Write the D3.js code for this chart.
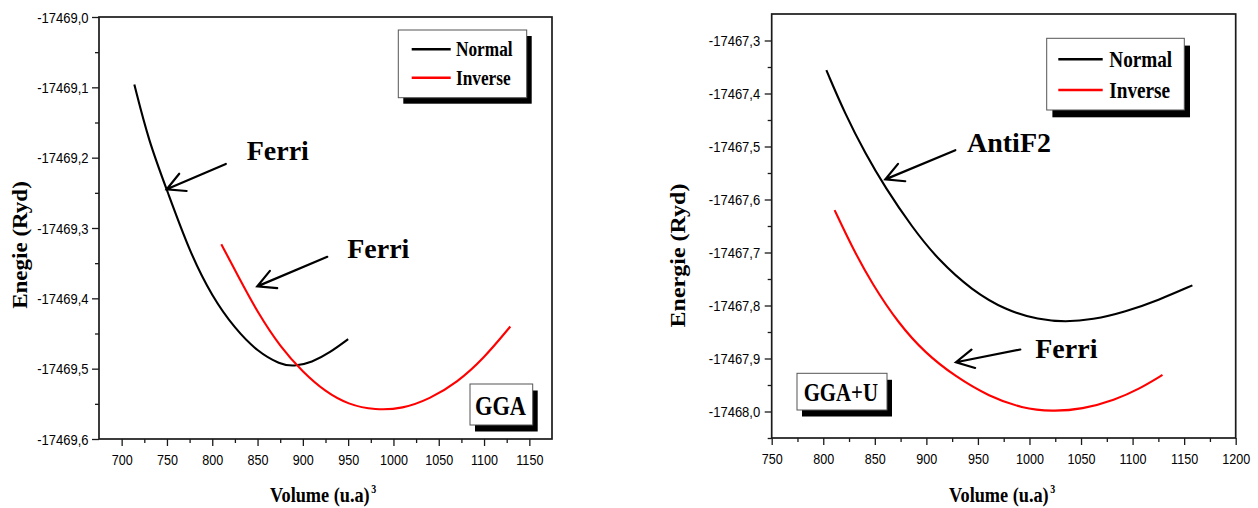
<!DOCTYPE html>
<html>
<head>
<meta charset="utf-8">
<script src="https://cdn.jsdelivr.net/npm/d3@7"></script>
<style>
  html, body { margin: 0; padding: 0; background: #fff; }
  svg { display: block; }
</style>
</head>
<body>
<svg id="chart" width="1258" height="508"></svg>
<script>
// ---- GGA panel: total energy vs. volume ----
const ggaNormalVolume  = [714, 730, 750, 775, 800, 825, 850, 875, 890, 910, 930, 950];
const ggaNormalEnergy  = [-17469.096, -17469.177, -17469.246, -17469.334, -17469.398, -17469.443,
                          -17469.476, -17469.494, -17469.497, -17469.491, -17469.477, -17469.458];
const ggaInverseVolume = [810, 830, 850, 875, 900, 925, 950, 980, 1010, 1040, 1070, 1100, 1129];
const ggaInverseEnergy = [-17469.323, -17469.372, -17469.420, -17469.469, -17469.505, -17469.533,
                          -17469.551, -17469.559, -17469.557, -17469.543, -17469.520, -17469.485, -17469.440];
const ggaXTicks  = [700, 750, 800, 850, 900, 950, 1000, 1050, 1100, 1150];
const ggaXMinor  = [725, 775, 825, 875, 925, 975, 1025, 1075, 1125];
const ggaYTicks  = [-17469.0, -17469.1, -17469.2, -17469.3, -17469.4, -17469.5, -17469.6];
const ggaYMinor  = [-17469.05, -17469.15, -17469.25, -17469.35, -17469.45, -17469.55];

// ---- GGA+U panel: total energy vs. volume ----
const ggauNormalVolume  = [803, 821, 841, 860, 886, 912, 944, 977, 1009, 1035, 1061, 1093, 1125, 1158];
const ggauNormalEnergy  = [-17467.356, -17467.438, -17467.514, -17467.577, -17467.652, -17467.715, -17467.771,
                           -17467.809, -17467.827, -17467.831, -17467.827, -17467.812, -17467.790, -17467.762];
const ggauInverseVolume = [811, 828, 847, 873, 899, 928, 961, 993, 1022, 1051, 1083, 1106, 1129];
const ggauInverseEnergy = [-17467.620, -17467.690, -17467.758, -17467.834, -17467.890, -17467.934, -17467.972,
                           -17467.994, -17468.000, -17467.996, -17467.978, -17467.958, -17467.931];
const ggauXTicks = [750, 800, 850, 900, 950, 1000, 1050, 1100, 1150, 1200];
const ggauXMinor = [775, 825, 875, 925, 975, 1025, 1075, 1125, 1175];
const ggauYTicks = [-17467.3, -17467.4, -17467.5, -17467.6, -17467.7, -17467.8, -17467.9, -17468.0];
const ggauYMinor = [-17467.35, -17467.45, -17467.55, -17467.65, -17467.75, -17467.85, -17467.95, -17468.05];

const seriesNames  = ["Normal", "Inverse"];
const seriesColors = ["#000000", "#ff0000"];

const SERIF = "'Liberation Serif', 'Times New Roman', serif";
const SANS  = "'Liberation Sans', Arial, sans-serif";
const INK   = "#1a1a1a";

// Decimal comma and plain hyphen for the energy axis
const fmtEnergy = d3.formatLocale({
  decimal: ",", thousands: "", grouping: [3], currency: ["", ""], minus: "-"
}).format(".1f");

const svg = d3.select("#chart");

// Text narrowed horizontally around its anchor point
function narrowText(parent, x, y, str, size, sx, opts = {}) {
  return parent.append("text")
    .attr("transform", `translate(${x},${y}) scale(${sx},1)`)
    .attr("font-family", opts.family || SERIF)
    .attr("font-weight", opts.weight || "bold")
    .attr("font-size", size)
    .attr("text-anchor", opts.anchor || "start")
    .attr("fill", "#000")
    .text(str);
}

// Open arrowhead annotation (tail -> tip)
function arrow(g, tail, tip) {
  const ang = Math.atan2(tail[1] - tip[1], tail[0] - tip[0]);
  const L = 20, spread = 28 * Math.PI / 180;
  const b1 = [tip[0] + L * Math.cos(ang - spread), tip[1] + L * Math.sin(ang - spread)];
  const b2 = [tip[0] + L * Math.cos(ang + spread), tip[1] + L * Math.sin(ang + spread)];
  g.append("path")
    .attr("d", `M${tail[0]},${tail[1]}L${tip[0]},${tip[1]}M${b1[0]},${b1[1]}L${tip[0]},${tip[1]}L${b2[0]},${b2[1]}`)
    .attr("fill", "none").attr("stroke", "#000").attr("stroke-width", 2.2)
    .attr("stroke-linecap", "round").attr("stroke-linejoin", "miter");
}

// White box with a solid black drop shadow
function shadowBox(g, x, y, w, h, dx, dy) {
  g.append("rect").attr("x", x + dx).attr("y", y + dy).attr("width", w).attr("height", h).attr("fill", "#000");
  g.append("rect").attr("x", x).attr("y", y).attr("width", w).attr("height", h)
    .attr("fill", "#fff").attr("stroke", "#555").attr("stroke-width", 1);
}

function drawPanel(p) {
  const g = svg.append("g");
  const x = d3.scaleLinear().domain(p.xDomain).range([p.left, p.right]);
  const y = d3.scaleLinear().domain(p.yDomain).range([p.bottom, p.top]);

  // minor ticks
  g.append("g").attr("transform", `translate(0,${p.bottom})`)
    .call(d3.axisBottom(x).tickValues(p.xMinor).tickSize(4).tickSizeOuter(0).tickFormat(""))
    .call(a => a.select(".domain").remove())
    .call(a => a.selectAll("line").attr("stroke", INK).attr("stroke-width", 1.3));
  g.append("g").attr("transform", `translate(${p.left},0)`)
    .call(d3.axisLeft(y).tickValues(p.yMinor).tickSize(4).tickSizeOuter(0).tickFormat(""))
    .call(a => a.select(".domain").remove())
    .call(a => a.selectAll("line").attr("stroke", INK).attr("stroke-width", 1.3));

  // major ticks + labels
  g.append("g").attr("transform", `translate(0,${p.bottom})`)
    .call(d3.axisBottom(x).tickValues(p.xTicks).tickSize(7).tickSizeOuter(0).tickFormat(d3.format("d")))
    .call(a => a.select(".domain").remove())
    .call(a => a.selectAll("line").attr("stroke", INK).attr("stroke-width", 1.3))
    .call(a => a.selectAll("text")
      .attr("y", null).attr("dy", null)
      .attr("transform", "translate(0,26) scale(0.84,1)")
      .attr("font-family", SANS).attr("font-size", 15).attr("fill", "#000"));

  g.append("g").attr("transform", `translate(${p.left},0)`)
    .call(d3.axisLeft(y).tickValues(p.yTicks).tickSize(7).tickSizeOuter(0).tickFormat(fmtEnergy))
    .call(a => a.select(".domain").remove())
    .call(a => a.selectAll("line").attr("stroke", INK).attr("stroke-width", 1.3))
    .call(a => a.selectAll("text")
      .attr("x", null).attr("dy", "0.36em")
      .attr("transform", `translate(${p.yLabelGap},0) scale(0.93,1)`)
      .attr("font-family", SANS).attr("font-size", 14).attr("fill", "#000"));

  // frame
  g.append("rect")
    .attr("x", p.left).attr("y", p.top)
    .attr("width", p.right - p.left).attr("height", p.bottom - p.top)
    .attr("fill", "none").attr("stroke", INK).attr("stroke-width", 1.7);

  // axis titles
  g.append("text")
    .attr("transform", `translate(${p.yTitle[0]},${p.yTitle[1]}) rotate(-90) scale(1,0.9)`)
    .attr("text-anchor", "middle").attr("dy", "0.35em")
    .attr("font-family", SERIF).attr("font-weight", "bold").attr("font-size", p.yTitleSize)
    .text(p.yTitleText);
  const xt = narrowText(g, p.xTitle[0], p.xTitle[1], "Volume (u.a)", 22, 0.83);
  xt.append("tspan").attr("dx", 2).attr("dy", -9).attr("font-size", 12).text("3");

  // curves (B-spline through the sampled energies for a smooth E(V) trace)
  const line = d3.line().x(d => x(d[0])).y(d => y(d[1])).curve(d3.curveBasis);
  p.series.forEach((s, i) => {
    g.append("path")
      .datum(d3.zip(s.vol, s.en))
      .attr("d", line)
      .attr("fill", "none").attr("stroke", seriesColors[i]).attr("stroke-width", 2.1);
  });

  // phase annotations
  p.notes.forEach(n => {
    arrow(g, [x(n.tail[0]), y(n.tail[1])], [x(n.tip[0]), y(n.tip[1])]);
    g.append("text")
      .attr("x", x(n.at[0])).attr("y", y(n.at[1]))
      .attr("font-family", SERIF).attr("font-weight", "bold").attr("font-size", 28)
      .text(n.text);
  });

  // method tag
  const t = p.tag;
  shadowBox(g, t.x, t.y, t.w, t.h, 5, 6.5);
  narrowText(g, t.tx, t.ty, t.text, t.size, 0.8);

  // legend
  const L = p.legend;
  shadowBox(g, L.x, L.y, L.w, L.h, L.dx, L.dy);
  seriesNames.forEach((name, i) => {
    g.append("line")
      .attr("x1", L.lx1).attr("x2", L.lx2).attr("y1", L.ly[i]).attr("y2", L.ly[i])
      .attr("stroke", seriesColors[i]).attr("stroke-width", 2.4);
    narrowText(g, L.tx, L.ty[i], name, L.size, 0.8);
  });
}

drawPanel({
  left: 99, right: 552, top: 17, bottom: 439,
  xDomain: [675, 1175], yDomain: [-17469.6, -17469.0],
  xTicks: ggaXTicks, xMinor: ggaXMinor, yTicks: ggaYTicks, yMinor: ggaYMinor,
  yLabelGap: -10.5,
  yTitle: [19.5, 245], yTitleSize: 23, yTitleText: "Enegie (Ryd)",
  xTitle: [270, 502],
  series: [
    { vol: ggaNormalVolume, en: ggaNormalEnergy },
    { vol: ggaInverseVolume, en: ggaInverseEnergy }
  ],
  notes: [
    { text: "Ferri", at: [838, -17469.204], tail: [815, -17469.209], tip: [749.7, -17469.245] },
    { text: "Ferri", at: [949, -17469.343], tail: [927, -17469.341], tip: [849.7, -17469.383] }
  ],
  tag: { text: "GGA", x: 470, y: 384, w: 62.7, h: 41, tx: 475, ty: 415, size: 28 },
  legend: { x: 398.3, y: 30, w: 128.4, h: 67.7, dx: 5, dy: 6,
            lx1: 411.7, lx2: 450.7, ly: [49.3, 77.7], tx: 456, ty: [56, 85.3], size: 21.6 }
});

drawPanel({
  left: 771.7, right: 1235.7, top: 14, bottom: 438,
  xDomain: [750, 1200], yDomain: [-17468.05, -17467.25],
  xTicks: ggauXTicks, xMinor: ggauXMinor, yTicks: ggauYTicks, yMinor: ggauYMinor,
  yLabelGap: -11.5,
  yTitle: [677.5, 255.5], yTitleSize: 24, yTitleText: "Energie (Ryd)",
  xTitle: [949, 502],
  series: [
    { vol: ggauNormalVolume, en: ggauNormalEnergy },
    { vol: ggauInverseVolume, en: ggauInverseEnergy }
  ],
  notes: [
    { text: "AntiF2", at: [939.4, -17467.510], tail: [928.1, -17467.507], tip: [860.2, -17467.562] },
    { text: "Ferri",  at: [1005.6, -17467.899], tail: [991.1, -17467.883], tip: [928.7, -17467.907] }
  ],
  tag: { text: "GGA+U", x: 797, y: 373.3, w: 90, h: 36.7, tx: 803.7, ty: 401, size: 26 },
  legend: { x: 1046.7, y: 38.3, w: 137.6, h: 71.7, dx: 5.7, dy: 7.3,
            lx1: 1058.3, lx2: 1102.7, ly: [59.3, 90], tx: 1109.3, ty: [66.7, 98.3], size: 24 }
});
</script>
</body>
</html>
